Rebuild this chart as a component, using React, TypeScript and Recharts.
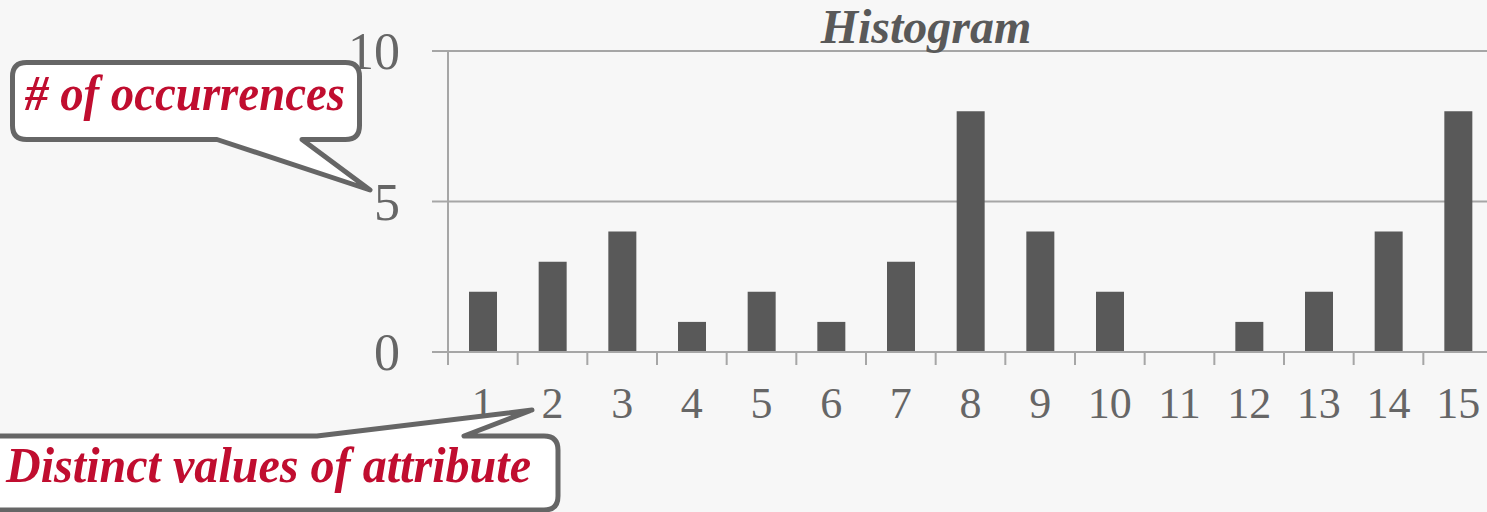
import React from 'react';
import { BarChart, Bar, XAxis, YAxis, CartesianGrid } from 'recharts';

const CATEGORIES = ['1', '2', '3', '4', '5', '6', '7', '8', '9', '10', '11', '12', '13', '14', '15'];
const OCCURRENCES = [2, 3, 4, 1, 2, 1, 3, 8, 4, 2, 0, 1, 2, 4, 8];
const Y_TICKS = [0, 5, 10];
const TITLE = 'Histogram';
const Y_NOTE = '# of occurrences';
const X_NOTE = 'Distinct values of attribute';

const data = CATEGORIES.map((value, i) => ({ value, count: OCCURRENCES[i] }));

const SERIF = '"Liberation Serif", "Times New Roman", serif';
const AXIS = '#a6a6a6';
const INK = '#666666';
const BAR = '#595959';
const RED = '#c00d2f';
const BG = '#f7f7f7';

// band boundary tick plus centred label, like a spreadsheet category axis
const XTick = (props: any) => {
  const { x, y, payload, width } = props;
  const band = (width || 1045) / CATEGORIES.length;
  return (
    <g>
      <line x1={x - band / 2} x2={x - band / 2} y1={y} y2={y + 13} stroke={AXIS} strokeWidth={2} />
      <text x={x} y={y + 66} textAnchor="middle" fill={INK} fontSize={44} fontFamily={SERIF}>
        {payload.value}
      </text>
    </g>
  );
};

// rounded box with a pointer on its top or bottom edge
const calloutPath = (
  x0: number, y0: number, x1: number, y1: number, r: number,
  side: 'top' | 'bottom', a: number, b: number, tx: number, ty: number,
) => {
  const top = side === 'top' ? `H ${a} L ${tx} ${ty} L ${b} ${y0} ` : '';
  const bottom = side === 'bottom' ? `H ${b} L ${tx} ${ty} L ${a} ${y1} ` : '';
  return (
    `M ${x0 + r} ${y0} ${top}H ${x1 - r} Q ${x1} ${y0} ${x1} ${y0 + r} ` +
    `V ${y1 - r} Q ${x1} ${y1} ${x1 - r} ${y1} ${bottom}H ${x0 + r} ` +
    `Q ${x0} ${y1} ${x0} ${y1 - r} V ${y0 + r} Q ${x0} ${y0} ${x0 + r} ${y0} Z`
  );
};

export default function App() {
  return (
    <div style={{ position: 'absolute', left: 0, top: 0, width: 1487, height: 512, overflow: 'hidden', background: BG }}>
      <BarChart
        width={1500}
        height={512}
        data={data}
        margin={{ top: 51, right: 7, bottom: 100, left: 348 }}
      >
        <CartesianGrid vertical={false} stroke={AXIS} strokeWidth={2} />
        <XAxis
          dataKey="value"
          height={60}
          interval={0}
          tickSize={0}
          tickMargin={0}
          tickLine={false}
          axisLine={{ stroke: AXIS, strokeWidth: 2 }}
          tick={<XTick />}
        />
        <YAxis
          width={100}
          domain={[0, 10]}
          ticks={Y_TICKS}
          interval={0}
          tickSize={16}
          tickMargin={32}
          axisLine={{ stroke: AXIS, strokeWidth: 2 }}
          tickLine={{ stroke: AXIS, strokeWidth: 2 }}
          tick={{ fill: INK, fontSize: 52, fontFamily: SERIF }}
        />
        <Bar dataKey="count" fill={BAR} barSize={28} isAnimationActive={false} />
      </BarChart>
      <svg width={1487} height={512} style={{ position: 'absolute', left: 0, top: 0, pointerEvents: 'none' }}>
        <text x={926} y={43} textAnchor="middle" fill={BAR} fontSize={48} fontWeight="bold" fontStyle="italic" fontFamily={SERIF}>
          {TITLE}
        </text>
        <path
          d={calloutPath(12.5, 62.5, 359.5, 139.5, 14, 'bottom', 217, 302, 370, 190)}
          fill="#ffffff"
          stroke={INK}
          strokeWidth={5}
          strokeLinejoin="round"
        />
        <text x={25} y={110} fill={RED} fontSize={50} fontWeight="bold" fontStyle="italic" fontFamily={SERIF}
          textLength={320} lengthAdjust="spacingAndGlyphs">
          {Y_NOTE}
        </text>
        <path
          d={calloutPath(-20, 436, 558, 510, 14, 'top', 317, 464, 532, 410)}
          fill="#ffffff"
          stroke={INK}
          strokeWidth={5}
          strokeLinejoin="round"
        />
        <text x={6} y={482} fill={RED} fontSize={50} fontWeight="bold" fontStyle="italic" fontFamily={SERIF}
          textLength={525} lengthAdjust="spacingAndGlyphs">
          {X_NOTE}
        </text>
      </svg>
    </div>
  );
}
